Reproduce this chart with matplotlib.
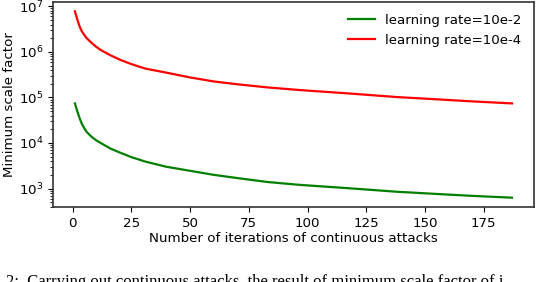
import numpy as np
import matplotlib
matplotlib.use('Agg')
from matplotlib import pyplot as plt

# values (log scale)
iters = [1, 2, 3, 4, 5, 6, 8, 10, 12, 16, 20, 25, 31, 40, 50, 60, 70,
         83, 97, 117, 138, 155, 170, 187]
lr_2 = [7.4e4, 5.0e4, 3.5e4, 2.6e4, 2.1e4, 1.75e4, 1.38e4, 1.15e4, 1.0e4,
        7.6e3, 6.2e3, 4.9e3, 3.9e3, 3.0e3, 2.45e3, 2.0e3, 1.7e3,
        1.39e3, 1.2e3, 1.02e3, 850, 760, 690, 630]
lr_4 = [7.8e6, 5.2e6, 3.6e6, 2.8e6, 2.35e6, 2.0e6, 1.6e6, 1.3e6, 1.1e6,
        8.5e5, 6.8e5, 5.4e5, 4.3e5, 3.5e5, 2.75e5, 2.25e5, 1.95e5,
        1.66e5, 1.45e5, 1.23e5, 1.02e5, 9.1e4, 8.2e4, 7.4e4]
labels = ['learning rate=10e-2', 'learning rate=10e-4']
colors = ['green', 'red']

caption = '2:  Carrying out continuous attacks, the result of minimum scale factor of i'

fig = plt.figure(figsize=(5.36, 2.82), dpi=100)
ax = fig.add_subplot(111)
fig.subplots_adjust(left=0.099, right=0.996, top=0.993, bottom=0.266)

ax.plot(iters, lr_2, color=colors[0], lw=1.6, label=labels[0])
ax.plot(iters, lr_4, color=colors[1], lw=1.6, label=labels[1])
ax.set_yscale('log')
ax.set_xticks([0, 25, 50, 75, 100, 125, 150, 175])
ax.tick_params(labelsize=9.6)
ax.set_xlabel('Number of iterations of continuous attacks', fontsize=9.6, labelpad=2)
ax.set_ylabel('Minimum scale factor', fontsize=9.6, labelpad=2)
for s in ax.spines.values():
    s.set_color('#333333')
    s.set_linewidth(1.2)
ax.legend(loc='upper right', frameon=False, fontsize=9.6)

# caption line of the paper, cut off at the bottom edge like the source
fig.text(0.012, 0.028, caption, fontsize=12, family='Liberation Serif', va='top')

fig.savefig('out.png', dpi=100)
